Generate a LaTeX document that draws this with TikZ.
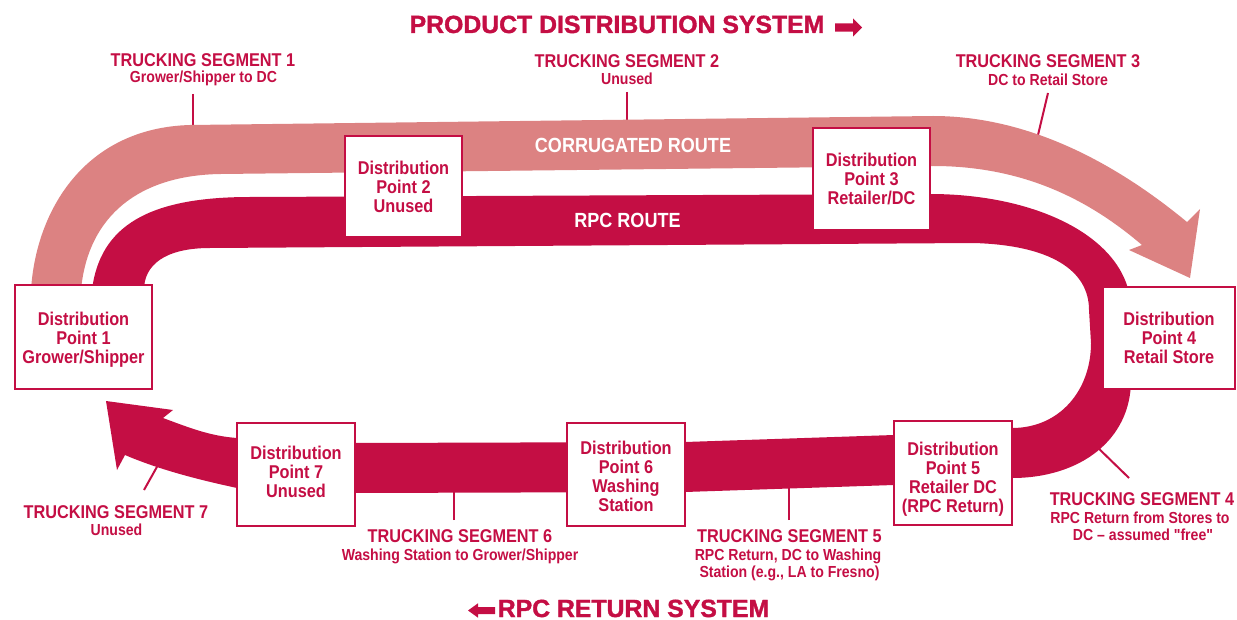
\documentclass[tikz,border=0pt]{standalone}
\usepackage{fontspec}
\newfontfamily\cf{Liberation Sans}[FakeStretch=0.88]
\newfontfamily\tf{Liberation Sans}[FakeBold=1.5]
\definecolor{rpc}{RGB}{196,14,68}
\definecolor{corr}{RGB}{220,130,130}
\begin{document}
\begin{tikzpicture}[x=1pt,y=-1pt,
  dpbox/.style={draw=rpc, line width=2pt, fill=white, align=center, inner sep=0pt, text=rpc,
    font=\cf\bfseries\fontsize{18.5}{19}\selectfont},
  seghead/.style={anchor=base, inner sep=0pt, text=rpc, font=\cf\bfseries\fontsize{18.5}{20}\selectfont},
  segsub/.style={anchor=base, inner sep=0pt, text=rpc, font=\cf\bfseries\fontsize{16}{18}\selectfont},
  routelbl/.style={anchor=base, inner sep=0pt, text=white, font=\cf\bfseries\fontsize{20.5}{22}\selectfont},
  titlelbl/.style={anchor=base, inner sep=0pt, text=rpc, font=\tf\bfseries\fontsize{24.8}{26}\selectfont},
  tickline/.style={draw=rpc, line width=2pt}]
\useasboundingbox (0,0) rectangle (1237,620);

% tick coordinates
\coordinate (t1a) at (193,94);   \coordinate (t1b) at (193,127);
\coordinate (t2a) at (627,92);   \coordinate (t2b) at (627,120);
\coordinate (t3a) at (1048,93);  \coordinate (t3b) at (1038,135);
\coordinate (t4a) at (1129,478); \coordinate (t4b) at (1093,443);
\coordinate (t5a) at (789,520);  \coordinate (t5b) at (789,488);
\coordinate (t6a) at (454,520);  \coordinate (t6b) at (454,492);
\coordinate (t7a) at (144,490);  \coordinate (t7b) at (158,465);
\foreach \i in {1,...,7} {\draw[tickline] (t\i a) -- (t\i b);}

% corrugated route (light band with arrow head)
\fill[corr] (31,290) .. controls (36,210) and (85,128) .. (190,125)
  -- (933,116) .. controls (1040,116) and (1130,175) .. (1187,222)
  -- (1200,209) -- (1190,278) -- (1129,250) -- (1142,245)
  .. controls (1095,205) and (1030,166) .. (933,166)
  -- (221,174) .. controls (140,175) and (88,215) .. (81,290) -- cycle;

% RPC route (dark loop with arrow head)
\fill[rpc] (92,290) .. controls (100,225) and (150,197) .. (250,197)
  -- (930,194) .. controls (1040,194) and (1131,240) .. (1131,310)
  -- (1131,380) .. controls (1131,440) and (1080,478) .. (1012,478)
  -- (894,485) -- (685,492) -- (355,493) -- (237,488)
  .. controls (200,480) and (160,470) .. (125,455)
  -- (117,470) -- (106,401) -- (173,410) -- (163,418)
  .. controls (190,428) and (210,436) .. (237,438)
  -- (355,443) -- (685,442) -- (894,435) -- (1012,428)
  .. controls (1060,428) and (1091,390) .. (1091,343)
  -- (1089,310) .. controls (1089,270) and (1050,245) .. (973,243)
  -- (210,248) .. controls (165,248) and (144,265) .. (144,290) -- cycle;

% boxes
\node[dpbox, minimum width=137pt, minimum height=104pt] (dp1) at (83.5,337) {\rule{0pt}{18pt}Distribution\\Point 1\\Grower/Shipper};
\node[dpbox, minimum width=117pt, minimum height=101pt] (dp2) at (403.5,186.5) {Distribution\\Point 2\\Unused};
\node[dpbox, minimum width=117pt, minimum height=102pt] (dp3) at (871.5,179) {Distribution\\Point 3\\Retailer/DC};
\node[dpbox, minimum width=132pt, minimum height=102pt] (dp4) at (1169,338) {Distribution\\Point 4\\Retail Store};
\node[dpbox, minimum width=118pt, minimum height=104pt] (dp5) at (953,473) {\rule{0pt}{25pt}Distribution\\Point 5\\Retailer DC\\(RPC Return)};
\node[dpbox, minimum width=118pt, minimum height=103pt] (dp6) at (626,474.5) {\rule{0pt}{17pt}Distribution\\Point 6\\Washing\\Station};
\node[dpbox, minimum width=118pt, minimum height=103pt] (dp7) at (296,474.5) {Distribution\\Point 7\\\rule[-5pt]{0pt}{5pt}Unused};

% route labels
\node[routelbl] (corrlbl) at (633,153) {CORRUGATED ROUTE};
\node[routelbl] (rpclbl) at (627.5,228) {RPC ROUTE};

% segment labels
\node[seghead] (s1h) at (203,67) {TRUCKING SEGMENT 1};
\node[segsub]  (s1s) at (203.5,83) {Grower/Shipper to DC};
\node[seghead] (s2h) at (627,68) {TRUCKING SEGMENT 2};
\node[segsub]  (s2s) at (627,85) {Unused};
\node[seghead] (s3h) at (1048,68) {TRUCKING SEGMENT 3};
\node[segsub]  (s3s) at (1048,86) {DC to Retail Store};
\node[seghead] (s4h) at (1142,505) {TRUCKING SEGMENT 4};
\node[segsub]  (s4s) at (1140,523) {RPC Return from Stores to};
\node[segsub]  (s4t) at (1143,540) {DC – assumed "free"};
\node[seghead] (s5h) at (789.5,542) {TRUCKING SEGMENT 5};
\node[segsub]  (s5s) at (788,560) {RPC Return, DC to Washing};
\node[segsub]  (s5t) at (789.5,577) {Station (e.g., LA to Fresno)};
\node[seghead] (s6h) at (460,542) {TRUCKING SEGMENT 6};
\node[segsub]  (s6s) at (460,560) {Washing Station to Grower/Shipper};
\node[seghead] (s7h) at (116,518) {TRUCKING SEGMENT 7};
\node[segsub]  (s7s) at (116.5,535) {Unused};

% titles
\node[titlelbl] (toptitle) at (617,33) {PRODUCT DISTRIBUTION SYSTEM};
\fill[rpc] (835,23.3) -- (853,23.3) -- (853,18.3) -- (862,27.5) -- (853,36.7) -- (853,31.7) -- (835,31.7) -- cycle;
\node[titlelbl] (bottitle) at (633.5,617) {RPC RETURN SYSTEM};
\fill[rpc] (495,607) -- (478,607) -- (478,603.3) -- (468,610.5) -- (478,617.7) -- (478,614) -- (495,614) -- cycle;
\end{tikzpicture}
\end{document}
